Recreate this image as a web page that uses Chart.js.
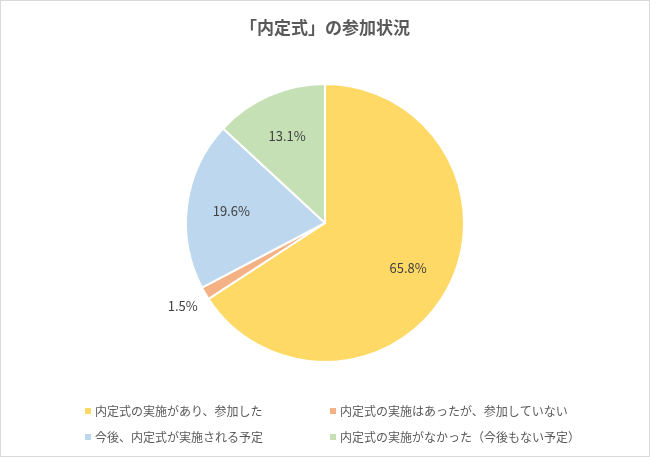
<!DOCTYPE html>
<html><head><meta charset="utf-8">
<script src="https://cdn.jsdelivr.net/npm/chart.js@4/dist/chart.umd.min.js"></script>
<style>body{margin:0;background:#fff}#wrap{width:648px;height:455px;border:1px solid #d9d9d9}</style>
</head><body><div id="wrap"><canvas id="c" width="648" height="455"></canvas></div>
<script>
const categories = ['内定式の実施があり、参加した', '内定式の実施はあったが、参加していない', '今後、内定式が実施される予定', '内定式の実施がなかった（今後もない予定）'];
const values = [65.8, 1.5, 19.6, 13.1];
const colors = ['#FFD966', '#F4B183', '#BDD7EE', '#C5E0B4'];
const font = '"Noto Sans CJK JP", "Noto Sans", sans-serif';

const labelsPlugin = {
  id: 'labels',
  afterDraw(chart) {
    const ctx = chart.ctx;
    ctx.save();
    ctx.fillStyle = '#404040';
    ctx.font = '13px ' + font;
    ctx.textAlign = 'center'; ctx.textBaseline = 'middle';
    chart.getDatasetMeta(0).data.forEach((arc, i) => {
      const mid = (arc.startAngle + arc.endAngle) / 2;
      const r = i === 1 ? arc.outerRadius + 26 : arc.outerRadius * 0.68;
      ctx.fillText(values[i].toFixed(1) + '%', arc.x + Math.cos(mid) * r, arc.y + Math.sin(mid) * r);
    });
    // title
    ctx.fillStyle = '#595959';
    ctx.font = 'bold 17px ' + font;
    ctx.fillText('「内定式」の参加状況', chart.width / 2, 27);
    // legend, two columns
    ctx.font = '12px ' + font;
    ctx.textAlign = 'left';
    categories.forEach((c, i) => {
      const x = i % 2 === 0 ? 84 : 329;
      const y = i < 2 ? 410 : 436;
      ctx.fillStyle = colors[i];
      ctx.fillRect(x, y - 3, 6, 6);
      ctx.fillStyle = '#595959';
      ctx.fillText(c, x + 10, y);
    });
    ctx.restore();
  }
};

new Chart(document.getElementById('c'), {
  type: 'pie',
  data: { labels: categories, datasets: [{ data: values, backgroundColor: colors, borderColor: '#fff', borderWidth: 2 }] },
  options: {
    responsive: false, animation: false,
    layout: { padding: { top: 82, bottom: 93 } },
    plugins: { legend: { display: false }, tooltip: { enabled: false } }
  },
  plugins: [labelsPlugin]
});
</script></body></html>
